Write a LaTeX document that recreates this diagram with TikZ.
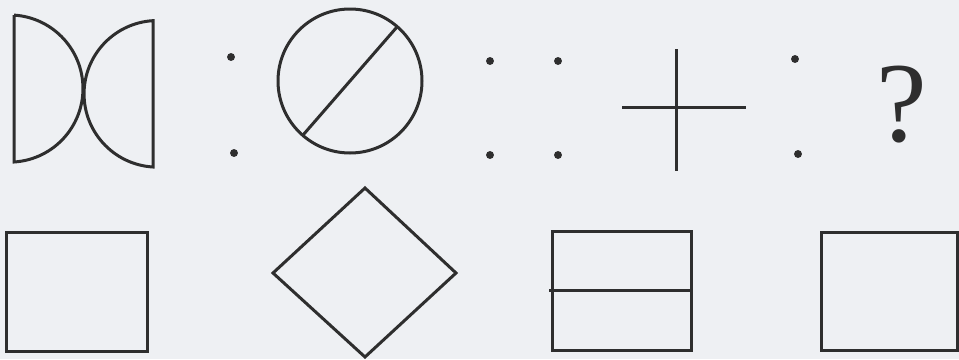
\documentclass[tikz,border=0pt]{standalone}
\usepackage{fontspec}
\newfontfamily\qfont{Liberation Serif}
\usepackage{tikz}
\usetikzlibrary{calc}
\definecolor{paper}{HTML}{EEF0F3}
\definecolor{ink}{HTML}{2E2E2E}

\begin{document}
\begin{tikzpicture}[
    x=1pt, y=-1pt,
    figline/.style={draw=ink, line width=3pt, line join=miter},
    dot/.style={fill=ink, draw=ink, line width=0.8pt},
    qmark/.style={text=ink, inner sep=0pt, anchor=south, font=\qfont\fontsize{114}{114}\selectfont}
  ]
    % Background
    \fill[paper] (0,0) rectangle (959,359);
    \useasboundingbox (0,0) rectangle (959,359);

    % Top row: bow tie
    \draw[figline] (14,15) -- (14,162) arc[start angle=86.4, end angle=-86.4, radius=73.6] -- cycle;
    \draw[figline] (153,21) -- (153,167) arc[start angle=93.4, end angle=266.6, radius=73.3] -- cycle;

    % Two dots
    \fill[dot] (231,57) circle (3.5);
    \fill[dot] (234,153) circle (3.5);

    % Circle with diagonal
    \draw[figline] (350,81) circle (72);
    \draw[figline, shift={(350,81)}] (-49:72) -- (131:72);

    % Four dots
    \foreach \dx/\dy in {490/61, 558/61, 490/155, 558/155}
      \fill[dot] (\dx,\dy) circle (3.5);

    % Cross
    \draw[figline] (676,49) -- (676,171);
    \draw[figline] (622,107) -- (746,107);

    % Two dots
    \fill[dot] (795,59) circle (3.5);
    \fill[dot] (798,154) circle (3.5);

    % Question mark
    \node[qmark] (q) at (902,143) {?};

    % Bottom row: answer options
    \draw[figline] (6,232) rectangle (147,351);
    \draw[figline] (273,273) -- (365,188) -- (456,273) -- (365,357) -- cycle;
    \draw[figline] (552,231) rectangle (691,350);
    \draw[figline] (549,290) -- (691,290);
    \draw[figline] (821,232) rectangle (957,350);
\end{tikzpicture}
\end{document}
